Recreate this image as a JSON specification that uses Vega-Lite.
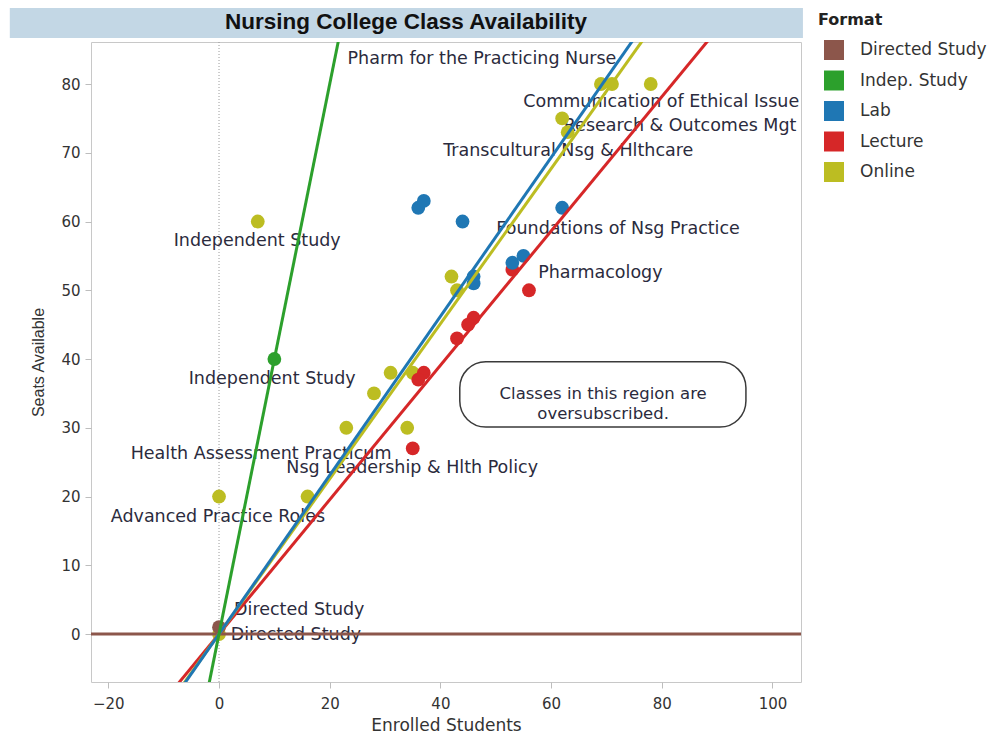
{
  "$schema": "https://vega.github.io/schema/vega-lite/v6.json",
  "width": 710,
  "height": 640,
  "autosize": {"type": "none"},
  "padding": {"left": 91, "top": 42, "right": 186, "bottom": 54},
  "background": "white",
  "config": {
    "font": "DejaVu Sans",
    "view": {"stroke": "#c8c8c8", "strokeWidth": 1},
    "axis": {
      "grid": false,
      "domain": false,
      "tickColor": "#bdbdbd",
      "tickSize": 6,
      "labelFontSize": 15,
      "labelColor": "#333333",
      "labelFont": "DejaVu Sans",
      "titleFontWeight": "normal",
      "titleColor": "#333333"
    },
    "legend": {
      "titleFont": "DejaVu Sans",
      "titleFontSize": 16,
      "titleFontWeight": "bold",
      "titleColor": "#222222",
      "labelFont": "DejaVu Sans",
      "labelFontSize": 17,
      "labelColor": "#333333",
      "symbolSize": 400,
      "symbolStrokeWidth": 0,
      "rowPadding": 10.5,
      "titlePadding": 12,
      "labelOffset": 16,
      "symbolOffset": 6
    }
  },
  "title": {
    "text": "Nursing College Class Availability",
    "font": "Liberation Sans",
    "fontSize": 22.5,
    "fontWeight": "bold",
    "color": "#111111",
    "anchor": "middle",
    "dx": -40,
    "offset": -25
  },
  "datasets": {
    "points": [
      {"Format": "Online", "Enrolled": 69, "Seats": 80},
      {"Format": "Online", "Enrolled": 71, "Seats": 80},
      {"Format": "Online", "Enrolled": 78, "Seats": 80},
      {"Format": "Online", "Enrolled": 62, "Seats": 75},
      {"Format": "Online", "Enrolled": 63, "Seats": 73},
      {"Format": "Online", "Enrolled": 7, "Seats": 60},
      {"Format": "Online", "Enrolled": 42, "Seats": 52},
      {"Format": "Online", "Enrolled": 43, "Seats": 50},
      {"Format": "Online", "Enrolled": 31, "Seats": 38},
      {"Format": "Online", "Enrolled": 35, "Seats": 38},
      {"Format": "Online", "Enrolled": 28, "Seats": 35},
      {"Format": "Online", "Enrolled": 23, "Seats": 30},
      {"Format": "Online", "Enrolled": 34, "Seats": 30},
      {"Format": "Online", "Enrolled": 0, "Seats": 20},
      {"Format": "Online", "Enrolled": 16, "Seats": 20},
      {"Format": "Online", "Enrolled": 0, "Seats": 0},
      {"Format": "Lecture", "Enrolled": 53, "Seats": 53},
      {"Format": "Lecture", "Enrolled": 56, "Seats": 50},
      {"Format": "Lecture", "Enrolled": 46, "Seats": 46},
      {"Format": "Lecture", "Enrolled": 45, "Seats": 45},
      {"Format": "Lecture", "Enrolled": 43, "Seats": 43},
      {"Format": "Lecture", "Enrolled": 37, "Seats": 38},
      {"Format": "Lecture", "Enrolled": 36, "Seats": 37},
      {"Format": "Lecture", "Enrolled": 35, "Seats": 27},
      {"Format": "Lab", "Enrolled": 36, "Seats": 62},
      {"Format": "Lab", "Enrolled": 37, "Seats": 63},
      {"Format": "Lab", "Enrolled": 44, "Seats": 60},
      {"Format": "Lab", "Enrolled": 62, "Seats": 62},
      {"Format": "Lab", "Enrolled": 46, "Seats": 52},
      {"Format": "Lab", "Enrolled": 46, "Seats": 51},
      {"Format": "Lab", "Enrolled": 53, "Seats": 54},
      {"Format": "Lab", "Enrolled": 55, "Seats": 55},
      {"Format": "Indep. Study", "Enrolled": 10, "Seats": 40},
      {"Format": "Directed Study", "Enrolled": 0, "Seats": 1}
    ],
    "trends": [
      {"Format": "Directed Study", "Enrolled": -30, "Seats": 0},
      {"Format": "Directed Study", "Enrolled": 110, "Seats": 0},
      {"Format": "Lecture", "Enrolled": -10, "Seats": -9.77},
      {"Format": "Lecture", "Enrolled": 95, "Seats": 92.8},
      {"Format": "Online", "Enrolled": -10, "Seats": -11.28},
      {"Format": "Online", "Enrolled": 82, "Seats": 92.5},
      {"Format": "Lab", "Enrolled": -10, "Seats": -11.55},
      {"Format": "Lab", "Enrolled": 80, "Seats": 92.4},
      {"Format": "Indep. Study", "Enrolled": -3, "Seats": -12},
      {"Format": "Indep. Study", "Enrolled": 23, "Seats": 92}
    ],
    "labels": [
      {"label": "Pharm for the Practicing Nurse", "Enrolled": 47.5, "Seats": 83.6},
      {"label": "Communication of Ethical Issue", "Enrolled": 79.9, "Seats": 77.4},
      {"label": "Research & Outcomes Mgt", "Enrolled": 83.3, "Seats": 73.9},
      {"label": "Transcultural Nsg & Hlthcare", "Enrolled": 63.1, "Seats": 70.3},
      {"label": "Foundations of Nsg Practice", "Enrolled": 72.1, "Seats": 58.9},
      {"label": "Pharmacology", "Enrolled": 68.9, "Seats": 52.5},
      {"label": "Independent Study", "Enrolled": 6.9, "Seats": 57.2},
      {"label": "Independent Study", "Enrolled": 9.6, "Seats": 37.1},
      {"label": "Health Assessment Practicum", "Enrolled": 7.6, "Seats": 26.2},
      {"label": "Nsg Leadership & Hlth Policy", "Enrolled": 34.9, "Seats": 24.1},
      {"label": "Advanced Practice Roles", "Enrolled": -0.2, "Seats": 17.0},
      {"label": "Directed Study", "Enrolled": 14.5, "Seats": 3.5},
      {"label": "Directed Study", "Enrolled": 13.9, "Seats": -0.1}
    ],
    "band": [
      {"Enrolled": -37.8, "Enrolled2": 105.5, "Seats": 91.05, "Seats2": 86.69}
    ],
    "box": [
      {"Enrolled": 43.5, "Enrolled2": 95.2, "Seats": 39.6, "Seats2": 30.1}
    ],
    "note": [
      {"note": "Classes in this region are\noversubscribed.", "Enrolled": 69.4, "Seats": 34.9}
    ],
    "zero": [
      {"Enrolled": 0}
    ]
  },
  "layer": [
    {
      "data": {"name": "band"},
      "mark": {"type": "rect", "clip": false, "fill": "#c3d7e5"},
      "encoding": {
        "x": {"field": "Enrolled", "type": "quantitative"},
        "x2": {"field": "Enrolled2"},
        "y": {"field": "Seats", "type": "quantitative"},
        "y2": {"field": "Seats2"}
      }
    },
    {
      "data": {"name": "zero"},
      "mark": {"type": "rule", "color": "#9a9a9a", "strokeDash": [1, 2], "strokeWidth": 1},
      "encoding": {
        "x": {"field": "Enrolled", "type": "quantitative"}
      }
    },
    {
      "data": {"name": "labels"},
      "mark": {"type": "text", "fontSize": 17.5, "font": "DejaVu Sans", "color": "#2b2b3d", "align": "center", "baseline": "middle"},
      "encoding": {
        "x": {"field": "Enrolled", "type": "quantitative"},
        "y": {"field": "Seats", "type": "quantitative"},
        "text": {"field": "label"}
      }
    },
    {
      "data": {"name": "points"},
      "mark": {"type": "circle", "size": 190, "opacity": 1},
      "encoding": {
        "x": {
          "field": "Enrolled",
          "type": "quantitative",
          "title": "Enrolled Students",
          "scale": {"domain": [-23.13, 105.15], "nice": false, "zero": false},
          "axis": {"values": [-20, 0, 20, 40, 60, 80, 100], "labelPadding": 8, "titleFontSize": 17, "titlePadding": 6, "titleFont": "DejaVu Sans"}
        },
        "y": {
          "field": "Seats",
          "type": "quantitative",
          "title": "Seats Available",
          "scale": {"domain": [-6.98, 86.11], "nice": false, "zero": false},
          "axis": {"values": [0, 10, 20, 30, 40, 50, 60, 70, 80], "labelPadding": 5, "titleFontSize": 16, "titleFont": "Liberation Sans", "titlePadding": 14}
        },
        "color": {
          "field": "Format",
          "type": "nominal",
          "scale": {
            "domain": ["Directed Study", "Indep. Study", "Lab", "Lecture", "Online"],
            "range": ["#8c564b", "#2ca02c", "#1f77b4", "#d62728", "#bcbd22"]
          },
          "legend": {"title": "Format", "orient": "none", "legendX": 727, "legendY": -30, "symbolType": "square"}
        }
      }
    },
    {
      "data": {"name": "trends"},
      "mark": {"type": "line", "strokeWidth": 3, "clip": true},
      "encoding": {
        "x": {"field": "Enrolled", "type": "quantitative"},
        "y": {"field": "Seats", "type": "quantitative"},
        "stroke": {
          "field": "Format",
          "type": "nominal",
          "scale": {
            "domain": ["Directed Study", "Indep. Study", "Lab", "Lecture", "Online"],
            "range": ["#8c564b", "#2ca02c", "#1f77b4", "#d62728", "#bcbd22"]
          },
          "legend": null
        },
        "order": {"field": "Enrolled"}
      }
    },
    {
      "data": {"name": "box"},
      "mark": {"type": "rect", "fill": "white", "stroke": "#3a3a3a", "strokeWidth": 1.5, "cornerRadius": 26},
      "encoding": {
        "x": {"field": "Enrolled", "type": "quantitative"},
        "x2": {"field": "Enrolled2"},
        "y": {"field": "Seats", "type": "quantitative"},
        "y2": {"field": "Seats2"}
      }
    },
    {
      "data": {"name": "note"},
      "mark": {"type": "text", "fontSize": 16.5, "font": "DejaVu Sans", "color": "#2b2b3d", "align": "center", "baseline": "middle", "lineBreak": "\n", "lineHeight": 20},
      "encoding": {
        "x": {"field": "Enrolled", "type": "quantitative"},
        "y": {"field": "Seats", "type": "quantitative"},
        "text": {"field": "note"}
      }
    }
  ]
}
